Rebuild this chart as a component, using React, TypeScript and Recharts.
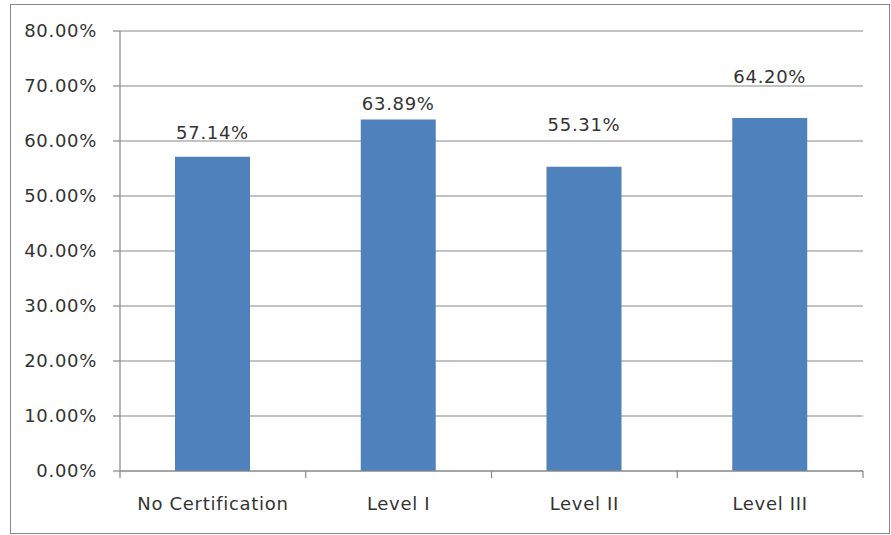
import React from "react";
import { BarChart, Bar, XAxis, YAxis, CartesianGrid, LabelList } from "recharts";

const categories = ["No Certification", "Level I", "Level II", "Level III"];
const rates = [57.14, 63.89, 55.31, 64.2];
const yTicks = [0, 10, 20, 30, 40, 50, 60, 70, 80];
// how far (px) each data label's centre sits above its bar
const labelLift = [24, 16, 42, 41];

const data = categories.map((c, i) => ({ name: c, value: rates[i] }));

const FONT = "DejaVu Sans";
const FS = 18;
const LS = 0.7;
const TEXT = "#333333";
const LINE = "#878787";
const X_TICK_SIZE = 7;
const X_TICK_MARGIN = 19;

const DataLabel = (props: any) => {
  const { x, y, width, index, value } = props;
  return (
    <text
      x={x + width / 2}
      y={y - labelLift[index]}
      textAnchor="middle"
      dominantBaseline="central"
      fontFamily={FONT}
      fontSize={FS}
      letterSpacing={LS}
      fill={TEXT}
    >
      {Number(value).toFixed(2) + "%"}
    </text>
  );
};

const CategoryTick = (props: any) => {
  const { x, y, payload, index } = props;
  const half = payload.offset || 0;
  const axisY = y - X_TICK_SIZE - X_TICK_MARGIN;
  const last = index === categories.length - 1;
  return (
    <g>
      <line x1={x - half} x2={x - half} y1={axisY} y2={axisY + X_TICK_SIZE} stroke={LINE} strokeWidth={1.2} />
      {last && (
        <line x1={x + half} x2={x + half} y1={axisY} y2={axisY + X_TICK_SIZE} stroke={LINE} strokeWidth={1.2} />
      )}
      <text
        x={x}
        y={y}
        dy="0.71em"
        textAnchor="middle"
        fontFamily={FONT}
        fontSize={FS}
        letterSpacing={LS}
        fill={TEXT}
      >
        {payload.value}
      </text>
    </g>
  );
};

export default function App() {
  return (
    <div style={{ position: "absolute", left: 0, top: 0, width: 891, height: 535, background: "#fff" }}>
      <div
        style={{
          position: "absolute",
          left: 10,
          top: 4,
          width: 878,
          height: 528,
          border: `1.5px solid ${LINE}`,
        }}
      />
      <div style={{ position: "absolute", left: 0, top: 0 }}>
        <BarChart
          width={891}
          height={535}
          data={data}
          margin={{ top: 31, right: 28, left: 20, bottom: 24 }}
          barSize={75}
        >
          <CartesianGrid vertical={false} stroke={LINE} strokeWidth={1.2} />
          <XAxis
            dataKey="name"
            axisLine={{ stroke: LINE, strokeWidth: 1.2 }}
            tickLine={false}
            tickSize={X_TICK_SIZE}
            tickMargin={X_TICK_MARGIN}
            height={40}
            interval={0}
            tick={<CategoryTick />}
          />
          <YAxis
            domain={[0, 80]}
            ticks={yTicks}
            width={100}
            tickSize={7}
            tickMargin={16}
            interval={0}
            tickFormatter={(v: number) => v.toFixed(2) + "%"}
            axisLine={{ stroke: LINE, strokeWidth: 1.2 }}
            tickLine={{ stroke: LINE, strokeWidth: 1.2 }}
            tick={{ fontFamily: FONT, fontSize: FS, fill: TEXT, letterSpacing: LS }}
          />
          <Bar dataKey="value" fill="#4F81BD" isAnimationActive={false}>
            <LabelList dataKey="value" content={<DataLabel />} />
          </Bar>
        </BarChart>
      </div>
    </div>
  );
}
